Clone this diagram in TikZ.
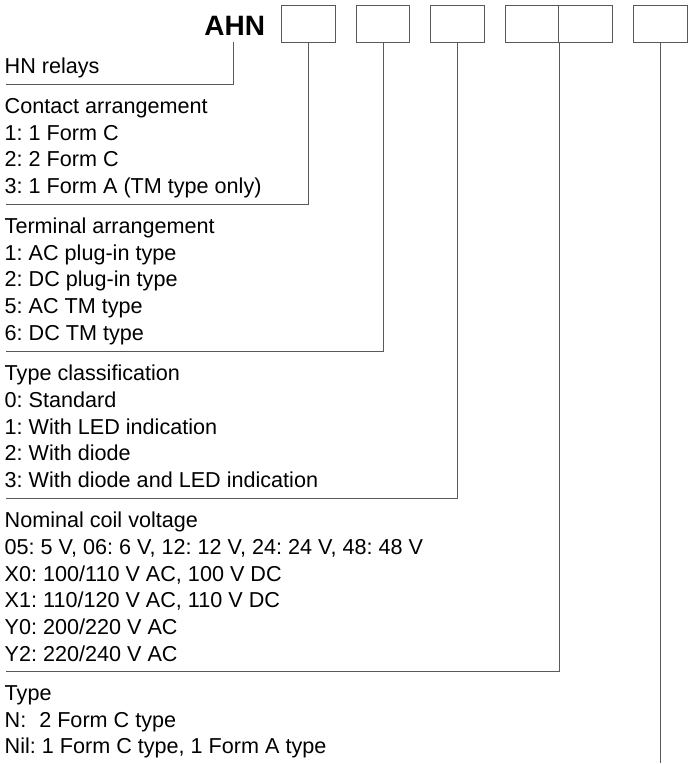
\documentclass[tikz,border=0pt]{standalone}
\usepackage{fontspec}
\setmainfont{Liberation Sans}
\frenchspacing
\begin{document}
\begin{tikzpicture}[x=1pt,y=-1pt,
  txt/.style={anchor=base west,inner sep=0pt,font=\fontsize{21.6}{26.67}\selectfont,text=black},
  codebox/.style={draw=black!65,line width=1pt,minimum width=53.5pt,minimum height=37.6pt,inner sep=0pt,anchor=north west},
  lead/.style={draw=black!65,line width=1pt}]
\useasboundingbox (0,0) rectangle (688,764);
% title
\node[anchor=base east,inner sep=0pt,font=\fontsize{28}{30}\selectfont\bfseries] (ahn) at (265.3,35) {AHN};
% boxes
\node[codebox] (b1) at (281,4.7) {};
\node[codebox] (b2) at (355.8,4.7) {};
\node[codebox] (b3) at (430.3,4.7) {};
\node[codebox] (b4) at (504.8,4.7) {};
\node[codebox] (b5) at (558.3,4.7) {};
\node[codebox] (b6) at (633.3,4.7) {};
\coordinate (ahnfoot) at (233.3,42.3);
% texts
\node[txt] (hn) at (4.5,73.3) {HN relays};
\node[txt] (ca0) at (4.5,113.5) {Contact arrangement};
\node[txt] (ca1) at (4.5,140.2) {1: 1 Form C};
\node[txt] (ca2) at (4.5,166.8) {2: 2 Form C};
\node[txt] (ca3) at (4.5,193.5) {3: 1 Form A (TM type only)};
\node[txt] (ta0) at (4.5,233.6) {Terminal arrangement};
\node[txt] (ta1) at (4.5,260.3) {1: AC plug-in type};
\node[txt] (ta2) at (4.5,286.9) {2: DC plug-in type};
\node[txt] (ta3) at (4.5,313.6) {5: AC TM type};
\node[txt] (ta4) at (4.5,340.3) {6: DC TM type};
\node[txt] (tc0) at (4.5,380.8) {Type classification};
\node[txt] (tc1) at (4.5,407.5) {0: Standard};
\node[txt] (tc2) at (4.5,434.1) {1: With LED indication};
\node[txt] (tc3) at (4.5,460.8) {2: With diode};
\node[txt] (tc4) at (4.5,487.5) {3: With diode and LED indication};
\node[txt] (nv0) at (4.5,527.8) {Nominal coil voltage};
\node[txt] (nv1) at (4.5,554.5) {05: 5 V, 06: 6 V, 12: 12 V, 24: 24 V, 48: 48 V};
\node[txt] (nv2) at (4.5,581.1) {X0: 100/110 V AC, 100 V DC};
\node[txt] (nv3) at (4.5,607.8) {X1: 110/120 V AC, 110 V DC};
\node[txt] (nv4) at (4.5,634.5) {Y0: 200/220 V AC};
\node[txt] (nv5) at (4.5,661.1) {Y2: 220/240 V AC};
\node[txt] (ty0) at (4.5,700.5) {Type};
\node[txt] (ty1) at (4.5,727.2) {N:\hspace{13pt}2 Form C type};
\node[txt] (ty2) at (4.5,753.8) {Nil: 1 Form C type, 1 Form A type};
% underline ends
\coordinate (e0) at (6,84);
\coordinate (e1) at (6,204.3);
\coordinate (e2) at (6,351.7);
\coordinate (e3) at (6,498.2);
\coordinate (e4) at (6,671.8);
\coordinate (e5) at (660,763);
% leaders
\draw[lead] (ahnfoot) |- (e0);
\draw[lead] (b1.south) |- (e1);
\draw[lead] (b2.south) |- (e2);
\draw[lead] (b3.south) |- (e3);
\draw[lead] (b4.south east) |- (e4);
\draw[lead] (b6.south) -- (b6.south |- e5);
\end{tikzpicture}
\end{document}
